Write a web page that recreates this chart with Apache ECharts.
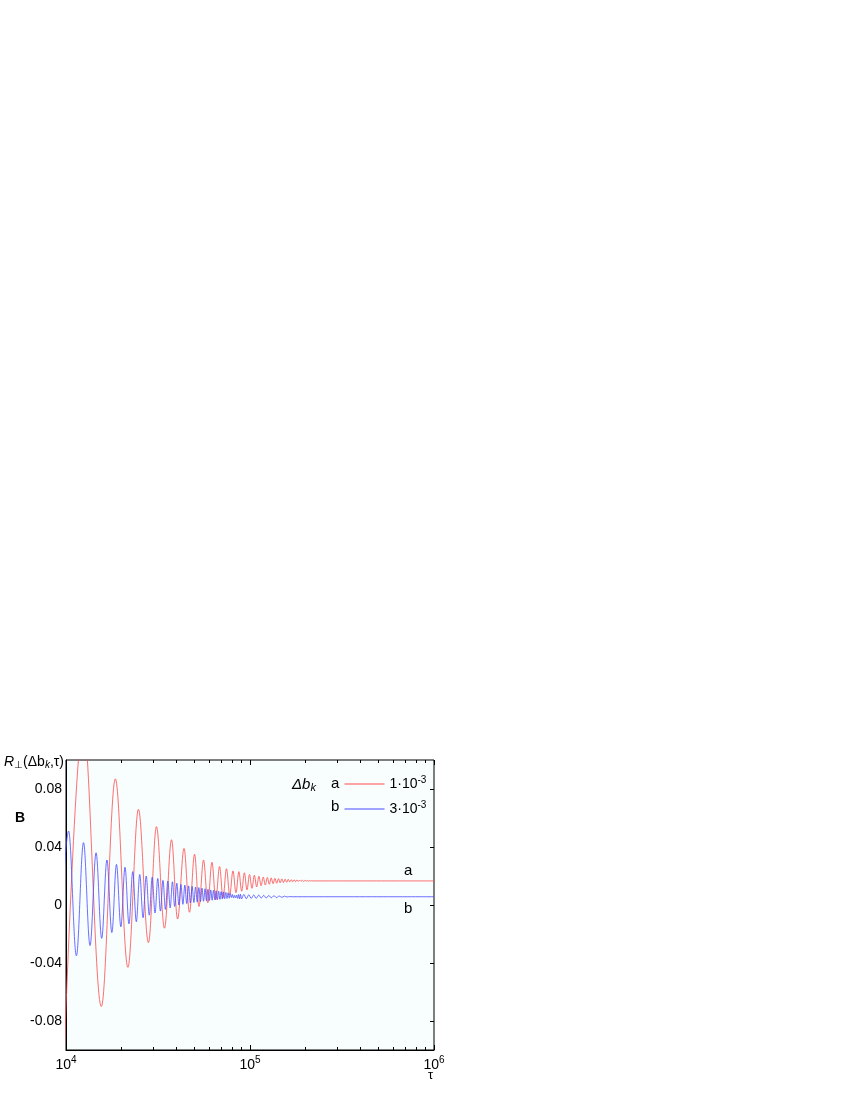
<!DOCTYPE html>
<html>
<head>
<meta charset="utf-8">
<script src="https://cdn.jsdelivr.net/npm/echarts@6/dist/echarts.min.js"></script>
<style>
html, body { margin: 0; padding: 0; background: #fff; }
#chart { width: 850px; height: 1100px; }
</style>
</head>
<body>
<div id="chart"></div>
<script>
// extrema of the two curves: [tau, R]
const redPoints = [
  [9600, -0.13], [12400, 0.125], [15560, -0.070], [18550, 0.087], [21700, -0.043],
  [24760, 0.066], [28060, -0.026], [31020, 0.054], [34300, -0.016], [37450, 0.045],
  [40400, -0.0097], [43800, 0.039], [46900, -0.005], [49960, 0.035], [52800, -0.001],
  [55900, 0.031], [59000, 0.0015], [62100, 0.0295], [65200, 0.0035], [68300, 0.0265],
  [71400, 0.005], [74500, 0.025], [77600, 0.007], [80800, 0.0235], [83900, 0.0085],
  [87000, 0.023], [90100, 0.0095], [93200, 0.0222], [96300, 0.0105], [99400, 0.021],
  [102500, 0.0115], [105600, 0.0205], [108700, 0.0125], [111800, 0.0198], [114900, 0.0133],
  [118000, 0.0193], [121100, 0.0138], [124200, 0.019], [127300, 0.0143], [130400, 0.0187],
  [133500, 0.0147], [136600, 0.0184], [139700, 0.015], [142800, 0.0182], [145900, 0.0153],
  [149000, 0.018], [152100, 0.0155], [155200, 0.0178], [158300, 0.0157], [161400, 0.0177],
  [164500, 0.0159], [167600, 0.0175], [170700, 0.016], [173800, 0.0174], [176900, 0.0161],
  [180000, 0.0173], [183100, 0.0162], [186200, 0.0172], [189300, 0.0163], [192400, 0.0171],
  [195500, 0.0163], [198600, 0.017], [201700, 0.0164], [204800, 0.0169], [207900, 0.0164],
  [211000, 0.0168], [214100, 0.0165], [217200, 0.0168], [220300, 0.0165], [223400, 0.0167],
  [226500, 0.0166], [1000000, 0.0166]
];
const bluePoints = [
  [9150, -0.045], [10330, 0.051], [11390, -0.035], [12450, 0.043], [13510, -0.028],
  [14570, 0.036], [15630, -0.023], [16690, 0.031], [17750, -0.019], [18810, 0.028],
  [19870, -0.015], [20930, 0.026], [21990, -0.013], [23050, 0.023], [24110, -0.0115],
  [25170, 0.021], [26230, -0.0088], [27290, 0.020], [28350, -0.007], [29410, 0.0192],
  [30470, -0.0055], [31530, 0.0183], [32590, -0.0042], [33650, 0.017], [34710, -0.003],
  [35770, 0.0165], [36830, -0.002], [37890, 0.016], [38950, -0.001], [40010, 0.015],
  [41070, 0.0], [42130, 0.0142], [43190, 0.0005], [44250, 0.0137], [45310, 0.001],
  [46370, 0.0132], [47430, 0.0014], [48490, 0.0128], [49550, 0.0017], [50610, 0.0124],
  [51670, 0.002], [52730, 0.012], [53790, 0.0023], [54850, 0.0116], [55910, 0.0026],
  [56970, 0.0112], [58030, 0.0029], [59090, 0.0108], [60150, 0.0031], [61210, 0.0104],
  [62270, 0.0033], [63330, 0.0101], [64390, 0.0035], [65450, 0.0098], [66510, 0.0037],
  [67570, 0.0095], [68630, 0.0039], [69690, 0.0092], [70750, 0.0041], [71810, 0.009],
  [72870, 0.0043], [73930, 0.0087], [74990, 0.0045], [76050, 0.0084], [77110, 0.0047],
  [78170, 0.0078], [79230, 0.0052], [80290, 0.0072], [81350, 0.0048], [82410, 0.0066],
  [83470, 0.005], [84530, 0.0068], [85590, 0.0046], [86650, 0.0072], [87710, 0.0043],
  [88770, 0.0074], [89830, 0.0042], [92600, 0.0073], [95500, 0.0043], [98500, 0.0071],
  [101500, 0.0045], [104800, 0.0069], [108000, 0.0046], [111500, 0.0068], [115000, 0.0048],
  [118700, 0.0066], [122500, 0.0049], [126500, 0.0065], [130500, 0.005], [135000, 0.0064],
  [139500, 0.0051], [144000, 0.0062], [149000, 0.0053], [154000, 0.0061], [159000, 0.0055],
  [164000, 0.0058], [170000, 0.0057], [1000000, 0.0057]
];

const seriesNames = ['a', 'b'];
const legendMantissa = ['1·10', '3·10'];
const legendExp = ['-3', '-3'];

const xMajorTicks = [1e4, 1e5, 1e6];
const xMinorTicks = [2e4, 3e4, 4e4, 5e4, 6e4, 7e4, 8e4, 9e4,
                     2e5, 3e5, 4e5, 5e5, 6e5, 7e5, 8e5, 9e5];
const yTicks = [-0.08, -0.04, 0, 0.04, 0.08];

const FONT = '"Liberation Sans", Arial, sans-serif';
const RED = '#ff4a4a';
const BLUE = '#4a4aff';

const chart = echarts.init(document.getElementById('chart'));

function crisp(v) {
  return Math.round(v - 0.5) + 0.5;
}

const option = {
  backgroundColor: '#fff',
  animation: false,
  grid: {
    left: 66, right: 416, top: 760, bottom: 50,
    show: true, backgroundColor: '#f8fdfe', borderColor: '#000', borderWidth: 1
  },
  xAxis: {
    type: 'log', logBase: 10, min: 1e4, max: 1e6,
    axisLine: { onZero: false, lineStyle: { color: '#000', width: 1 } },
    axisTick: { show: false },
    splitLine: { show: false },
    axisLabel: {
      margin: 5, showMinLabel: true, showMaxLabel: true,
      formatter: function (v) {
        return '{b|10}{s|' + Math.round(Math.log10(v)) + '}';
      },
      rich: {
        b: { fontFamily: FONT, fontSize: 14, color: '#000', lineHeight: 20 },
        s: { fontFamily: FONT, fontSize: 10, color: '#000', lineHeight: 10, verticalAlign: 'top' }
      }
    }
  },
  yAxis: {
    type: 'value', min: -0.1, max: 0.1, interval: 0.02,
    axisLine: { show: true, onZero: false, lineStyle: { color: '#000', width: 1 } },
    axisTick: { show: false },
    splitLine: { show: false },
    axisLabel: {
      margin: 4, fontFamily: FONT, fontSize: 14, color: '#000',
      formatter: function (v) {
        const k = Math.round(v * 100);
        if (k % 4 !== 0 || Math.abs(k) >= 10) return '';
        return k === 0 ? '0' : (k / 100).toFixed(2);
      }
    }
  },
  legend: {
    data: seriesNames,
    orient: 'vertical', left: 344, top: 775, padding: 0,
    itemWidth: 40, itemHeight: 14, itemGap: 9,
    itemStyle: { opacity: 0 },
    lineStyle: { width: 1 },
    formatter: function (name) {
      const i = seriesNames.indexOf(name);
      return '{t|' + legendMantissa[i] + '}{s|' + legendExp[i] + '}';
    },
    textStyle: {
      rich: {
        t: { fontFamily: FONT, fontSize: 14, color: '#000', lineHeight: 18 },
        s: { fontFamily: FONT, fontSize: 10, color: '#000', lineHeight: 10, verticalAlign: 'top' }
      }
    }
  },
  series: [
    {
      name: 'a', type: 'line', data: redPoints, symbol: 'none',
      smooth: 0.36, smoothMonotone: 'x',
      lineStyle: { color: RED, width: 0.8 }, itemStyle: { color: RED }
    },
    {
      name: 'b', type: 'line', data: bluePoints, symbol: 'none',
      smooth: 0.36, smoothMonotone: 'x',
      lineStyle: { color: BLUE, width: 0.8 }, itemStyle: { color: BLUE }
    },
    {
      // x ticks, inward, bottom and top
      type: 'custom', silent: true, z: 5,
      data: xMajorTicks.map(v => [v, 0, 5]).concat(xMinorTicks.map(v => [v, 0, 3])),
      renderItem: function (params, api) {
        const cs = params.coordSys;
        const x = crisp(api.coord([api.value(0), 0])[0]);
        const len = api.value(2);
        const bot = cs.y + cs.height;
        return {
          type: 'group',
          children: [
            { type: 'line', shape: { x1: x, y1: bot, x2: x, y2: bot - len }, style: { stroke: '#000', lineWidth: 1 } },
            { type: 'line', shape: { x1: x, y1: cs.y, x2: x, y2: cs.y + len }, style: { stroke: '#000', lineWidth: 1 } }
          ]
        };
      }
    },
    {
      // y ticks on the right side, inward
      type: 'custom', silent: true, z: 5,
      data: yTicks.map(v => [2e4, v]),
      renderItem: function (params, api) {
        const cs = params.coordSys;
        const y = crisp(api.coord([api.value(0), api.value(1)])[1]);
        const r = cs.x + cs.width;
        return { type: 'line', shape: { x1: r, y1: y, x2: r - 4, y2: y }, style: { stroke: '#000', lineWidth: 1 } };
      }
    }
  ],
  graphic: [
    {
      type: 'text', left: 4, top: 755,
      style: {
        text: '{i|R}{sub|⊥}{n|(Δb}{isub|k}{n|,τ)}',
        rich: {
          i: { fontFamily: FONT, fontSize: 14, fontStyle: 'italic', color: '#000', lineHeight: 17 },
          n: { fontFamily: FONT, fontSize: 14, color: '#000', lineHeight: 17 },
          sub: { fontFamily: FONT, fontSize: 10, color: '#000', lineHeight: 9, verticalAlign: 'bottom' },
          isub: { fontFamily: FONT, fontSize: 10, fontStyle: 'italic', color: '#000', lineHeight: 9, verticalAlign: 'bottom' }
        }
      }
    },
    { type: 'text', left: 15, top: 811, style: { text: 'B', font: 'bold 14px ' + FONT, fill: '#000' } },
    {
      type: 'text', left: 292, top: 777,
      style: {
        text: '{i|Δb}{isub|k}',
        rich: {
          i: { fontFamily: FONT, fontSize: 15, fontStyle: 'italic', color: '#000', lineHeight: 18 },
          isub: { fontFamily: FONT, fontSize: 11, fontStyle: 'italic', color: '#000', lineHeight: 10, verticalAlign: 'bottom' }
        }
      }
    },
    { type: 'text', left: 331, top: 776, style: { text: 'a', font: '15px ' + FONT, fill: '#000' } },
    { type: 'text', left: 331, top: 799, style: { text: 'b', font: '15px ' + FONT, fill: '#000' } },
    { type: 'text', left: 404, top: 863, style: { text: 'a', font: '15px ' + FONT, fill: '#000' } },
    { type: 'text', left: 404, top: 901, style: { text: 'b', font: '15px ' + FONT, fill: '#000' } },
    { type: 'text', left: 428, top: 1069, style: { text: 'τ', font: '13px ' + FONT, fill: '#000' } }
  ]
};

chart.setOption(option);
</script>
</body>
</html>
